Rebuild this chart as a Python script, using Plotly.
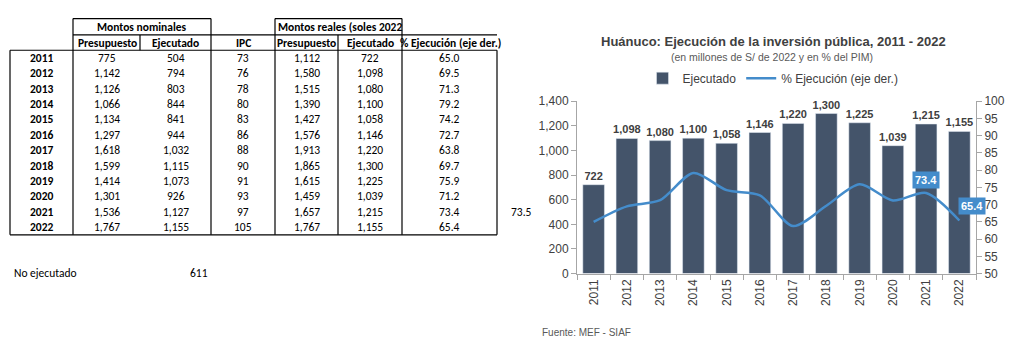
import plotly.graph_objects as go

# ---------------- data ----------------
years = ['2011', '2012', '2013', '2014', '2015', '2016', '2017', '2018', '2019', '2020', '2021', '2022']
pres_nom = [775, 1142, 1126, 1066, 1134, 1297, 1618, 1599, 1414, 1301, 1536, 1767]
ejec_nom = [504, 794, 803, 844, 841, 944, 1032, 1115, 1073, 926, 1127, 1155]
ipc = [73, 76, 78, 80, 83, 86, 88, 90, 91, 93, 97, 105]
pres_real = [1112, 1580, 1515, 1390, 1427, 1576, 1913, 1865, 1615, 1459, 1657, 1767]
ejec_real = [722, 1098, 1080, 1100, 1058, 1146, 1220, 1300, 1225, 1039, 1215, 1155]
pct_ejec = [65.0, 69.5, 71.3, 79.2, 74.2, 72.7, 63.8, 69.7, 75.9, 71.2, 73.4, 65.4]
no_ejecutado = 611
side_value = 73.5

# ---------------- layout helpers ----------------
W, H = 1025, 363
def X(px):
    return px / W
def Y(py):
    return 1 - py / H

TFONT = 'Carlito, Calibri, Lato, sans-serif'
CFONT = 'Liberation Sans, Arial, sans-serif'
BAR_C = '#44546A'
LINE_C = '#448CCB'
TXT_C = '#404040'

shapes = []
annots = []

def hline(x0, x1, y, w=1.2, c='black'):
    shapes.append(dict(type='line', xref='paper', yref='paper', x0=X(x0), x1=X(x1),
                       y0=Y(y), y1=Y(y), line=dict(color=c, width=w)))

def vline(x, y0, y1, w=1.2, c='black'):
    shapes.append(dict(type='line', xref='paper', yref='paper', x0=X(x), x1=X(x),
                       y0=Y(y0), y1=Y(y1), line=dict(color=c, width=w)))

def ttext(s, x, y, bold=False, anchor='center', size=11.5, color='black', family=TFONT):
    annots.append(dict(xref='paper', yref='paper', x=X(x), y=Y(y), text=('<b>%s</b>' % s) if bold else s,
                       showarrow=False, xanchor=anchor, yanchor='middle',
                       font=dict(family=family, size=size, color=color)))

# ---------------- table (left) ----------------
y_top, y_mid, y_head, row_h = 12, 29, 45, 16
n = len(years)
y_bot = y_head + row_h * n

hline(73, 211, y_top)
hline(275, 402, y_top)
hline(73, 497, y_mid)
hline(10, 497, y_head)
hline(10, 497, y_bot)
vline(73, y_top, y_bot)
vline(211, y_top, y_bot)
vline(275, y_top, y_bot)
vline(402, y_top, y_bot)
vline(140, y_mid, y_head)
vline(338, y_mid, y_bot)
vline(10, y_head, y_bot)
vline(497, y_head, y_bot)

ttext('Montos nominales', 142, 20.5, bold=True)
ttext('Montos reales (soles 2022', 276, 20.5, bold=True, anchor='left')
hdr = [('Presupuesto', 107), ('Ejecutado', 175.5), ('IPC', 243), ('Presupuesto', 306.5),
       ('Ejecutado', 370)]
for s, cx in hdr:
    ttext(s, cx, 37, bold=True)
ttext('% Ejecución (eje der.)', 503, 37, bold=True, anchor='right')

def fmt(v):
    return '{:,}'.format(v)

for i in range(n):
    cy = y_head + row_h * i + row_h / 2
    ttext(years[i], 41.5, cy, bold=True)
    ttext(fmt(pres_nom[i]), 107, cy)
    ttext(fmt(ejec_nom[i]), 175.5, cy)
    ttext(fmt(ipc[i]), 243, cy)
    ttext(fmt(pres_real[i]), 306.5, cy)
    ttext(fmt(ejec_real[i]), 370, cy)
    ttext('{:.1f}'.format(pct_ejec[i]), 449.5, cy)

ttext('%.1f' % side_value, 534, y_head + row_h * 10 + row_h / 2, anchor='right')
ttext('No ejecutado', 12, 277, anchor='left')
ttext(str(no_ejecutado), 199, 277)

# ---------------- chart (right) ----------------
annots.append(dict(xref='paper', yref='paper', x=X(773), y=Y(36), showarrow=False,
                   text='<b>Huánuco: Ejecución de la inversión pública, 2011 - 2022</b>',
                   xanchor='center', yanchor='middle', font=dict(family=CFONT, size=13, color=TXT_C)))
annots.append(dict(xref='paper', yref='paper', x=X(772), y=Y(52), showarrow=False,
                   text='(en millones de S/ de 2022 y en % del PIM)',
                   xanchor='center', yanchor='middle', font=dict(family=CFONT, size=10.5, color='#595959')))
annots.append(dict(xref='paper', yref='paper', x=X(540), y=Y(339), showarrow=False,
                   text='Fuente: MEF - SIAF', xanchor='left', yanchor='middle',
                   font=dict(family=CFONT, size=10, color='#595959')))

# labels for the last two points of the line (x given as category index)
for idx, (xs, ys) in zip([n - 2, n - 1], [(0, 13), (13, 15)]):
    annots.append(dict(xref='x', yref='y2', x=idx, y=pct_ejec[idx], showarrow=False,
                       text='<b>%.1f</b>' % pct_ejec[idx], xshift=xs, yshift=ys,
                       bgcolor=LINE_C, borderpad=2,
                       font=dict(family=CFONT, size=11, color='white')))

fig = go.Figure()
fig.add_trace(go.Bar(x=years, y=ejec_real, name='Ejecutado', marker_color=BAR_C,
                     texttemplate='<b>%{y:,}</b>', textposition='outside', cliponaxis=False,
                     constraintext='none',
                     textfont=dict(family=CFONT, size=11, color=TXT_C)))
fig.add_trace(go.Scatter(x=years, y=pct_ejec, name='% Ejecución (eje der.)', yaxis='y2',
                         mode='lines', line=dict(color=LINE_C, width=2.5, shape='spline', smoothing=0.8)))

axis_c = '#A6A6A6'
fig.update_layout(
    width=W, height=H, margin=dict(l=0, r=0, t=0, b=0),
    paper_bgcolor='white', plot_bgcolor='white',
    bargap=0.35,
    shapes=shapes, annotations=annots,
    showlegend=True,
    legend=dict(orientation='h', x=X(773), xanchor='center', y=Y(74), yanchor='middle',
                font=dict(family=CFONT, size=12, color=TXT_C), bgcolor='rgba(0,0,0,0)'),
    xaxis=dict(domain=[X(577), X(976)], type='category', range=[-0.5, n - 0.5], autorange=False,
               tickangle=-90, showline=True,
               linecolor=axis_c, ticks='outside', tickson='boundaries', ticklen=5, tickcolor=axis_c,
               tickfont=dict(family=CFONT, size=12, color=TXT_C), showgrid=False),
    yaxis=dict(domain=[Y(277.3), Y(98)], range=[0, 1400], dtick=200, tickformat=',',
               showline=True, linecolor=axis_c, ticks='outside', ticklen=5, tickcolor=axis_c,
               tickfont=dict(family=CFONT, size=12, color=TXT_C), showgrid=False, zeroline=False),
    yaxis2=dict(overlaying='y', side='right', anchor='x', range=[50, 100], dtick=5,
                showline=True, linecolor=axis_c, ticks='outside', ticklen=5, tickcolor=axis_c,
                tickfont=dict(family=CFONT, size=12, color=TXT_C), showgrid=False, zeroline=False),
)

fig.write_html('out.html', config={'displayModeBar': False},
               post_script="document.body.style.margin='0';")
